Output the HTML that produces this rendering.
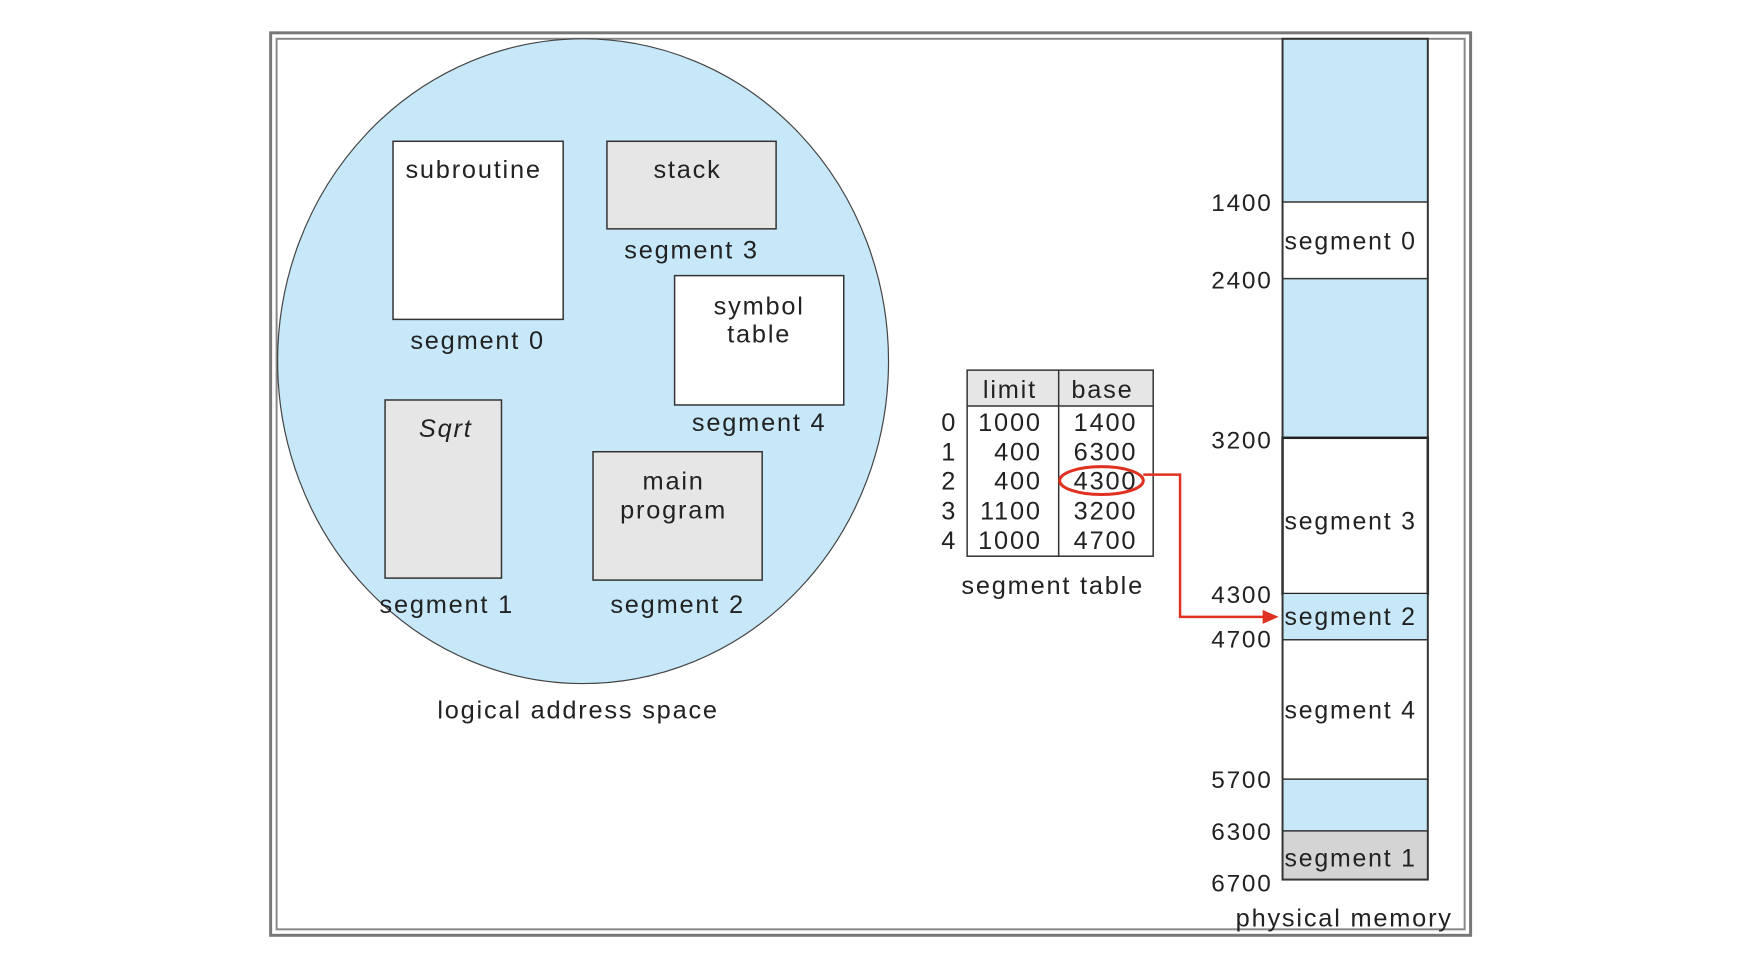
<!DOCTYPE html>
<html><head><style>
body{margin:0;background:#fff;}
text{letter-spacing:1.8px;}
</style></head><body>
<svg width="1750" height="948" viewBox="0 0 1750 948" xmlns="http://www.w3.org/2000/svg" font-family="Liberation Sans, sans-serif" font-size="25.5" fill="#222">
<g transform="translate(-1,0) scale(0.995)">
<rect x="273" y="33" width="1206" height="907" fill="none" stroke="#777" stroke-width="3"/>
<rect x="279" y="39" width="1194" height="895" fill="none" stroke="#888" stroke-width="2"/>
<ellipse cx="587" cy="363" rx="307" ry="324" fill="#c6e8f9" stroke="#444" stroke-width="1.2"/>
<rect x="396" y="142" width="171" height="179" fill="#fff" stroke="#333" stroke-width="1.5"/>
<text x="477" y="179" text-anchor="middle">subroutine</text>
<text x="481" y="351" text-anchor="middle">segment 0</text>
<rect x="611" y="142" width="170" height="88" fill="#e6e6e6" stroke="#333" stroke-width="1.5"/>
<text x="692" y="179" text-anchor="middle">stack</text>
<text x="696" y="260" text-anchor="middle">segment 3</text>
<rect x="679" y="277" width="170" height="130" fill="#fff" stroke="#333" stroke-width="1.5"/>
<text x="764" y="316" text-anchor="middle">symbol</text>
<text x="764" y="344" text-anchor="middle">table</text>
<text x="764" y="433" text-anchor="middle">segment 4</text>
<rect x="388" y="402" width="117" height="179" fill="#e6e6e6" stroke="#333" stroke-width="1.5"/>
<text x="449" y="439" text-anchor="middle" font-style="italic">Sqrt</text>
<rect x="597" y="454" width="170" height="129" fill="#e6e6e6" stroke="#333" stroke-width="1.5"/>
<text x="678" y="492" text-anchor="middle">main</text>
<text x="678" y="521" text-anchor="middle">program</text>
<text x="450" y="616" text-anchor="middle">segment 1</text>
<text x="682" y="616" text-anchor="middle">segment 2</text>
<text x="582" y="722" text-anchor="middle">logical address space</text>
<rect x="973" y="372" width="187" height="36" fill="#e6e6e6"/>
<rect x="973" y="372" width="187" height="187" fill="none" stroke="#333" stroke-width="1.5"/>
<line x1="973" y1="408" x2="1160" y2="408" stroke="#333" stroke-width="1.5"/>
<line x1="1065" y1="372" x2="1065" y2="559" stroke="#333" stroke-width="1.5"/>
<text x="1016" y="400" text-anchor="middle">limit</text>
<text x="1109" y="400" text-anchor="middle">base</text>
<g text-anchor="end">
<text x="963" y="433">0</text><text x="963" y="463">1</text><text x="963" y="492">2</text><text x="963" y="522">3</text><text x="963" y="552">4</text>
<text x="1048" y="433">1000</text><text x="1048" y="463">400</text><text x="1048" y="492">400</text><text x="1048" y="522">1100</text><text x="1048" y="552">1000</text>
<text x="1144" y="433">1400</text><text x="1144" y="463">6300</text><text x="1144" y="492">4300</text><text x="1144" y="522">3200</text><text x="1144" y="552">4700</text>
</g>
<text x="1059" y="597" text-anchor="middle">segment table</text>
<ellipse cx="1108" cy="483" rx="42" ry="14" fill="none" stroke="#e03020" stroke-width="3"/>
<polyline points="1150,477 1187,477 1187,620 1272,620" fill="none" stroke="#e03020" stroke-width="2.5"/>
<polygon points="1286,620 1270,613 1270,627" fill="#e03020"/>
<rect x="1290" y="39" width="146" height="164" fill="#c6e8f9"/>
<rect x="1290" y="203" width="146" height="77" fill="#fff"/>
<rect x="1290" y="280" width="146" height="160" fill="#c6e8f9"/>
<rect x="1290" y="440" width="146" height="157" fill="#fff" stroke="#222" stroke-width="2.5"/>
<rect x="1290" y="597" width="146" height="46" fill="#c6e8f9"/>
<rect x="1290" y="643" width="146" height="140" fill="#fff"/>
<rect x="1290" y="783" width="146" height="52" fill="#c6e8f9"/>
<rect x="1290" y="835" width="146" height="49" fill="#d4d4d4"/>
<rect x="1290" y="39" width="146" height="845" fill="none" stroke="#333" stroke-width="2"/>
<g stroke="#333" stroke-width="1.5">
<line x1="1290" y1="203" x2="1436" y2="203"/><line x1="1290" y1="280" x2="1436" y2="280"/>
<line x1="1290" y1="643" x2="1436" y2="643"/><line x1="1290" y1="783" x2="1436" y2="783"/><line x1="1290" y1="835" x2="1436" y2="835"/>
</g>
<g font-size="25">
<text x="1292" y="251">segment 0</text>
<text x="1292" y="532">segment 3</text>
<text x="1292" y="628">segment 2</text>
<text x="1292" y="722">segment 4</text>
<text x="1292" y="871">segment 1</text>
</g>
<g text-anchor="end" font-size="24.5">
<text x="1280" y="212">1400</text><text x="1280" y="290">2400</text><text x="1280" y="451">3200</text>
<text x="1280" y="606">4300</text><text x="1280" y="651">4700</text><text x="1280" y="792">5700</text>
<text x="1280" y="844">6300</text><text x="1280" y="896">6700</text>
</g>
<text x="1352" y="931" text-anchor="middle">physical memory</text>
</g>
</svg>
</body></html>
